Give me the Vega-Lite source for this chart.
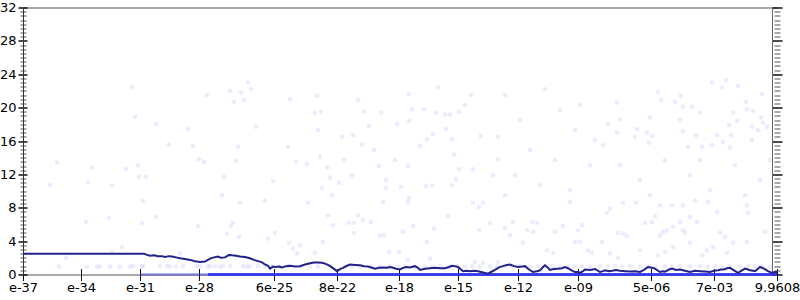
{
  "$schema": "https://vega.github.io/schema/vega-lite/v6.json",
  "width": 754,
  "height": 267,
  "autosize": {"type": "none"},
  "padding": {"left": 23, "top": 7.5, "right": 23, "bottom": 25.5},
  "background": "white",
  "config": {
    "view": {"stroke": null},
    "axis": {"grid": false, "labelFont": "DejaVu Sans", "labelFontSize": 13, "labelColor": "#000", "title": null}
  },
  "datasets": {
    "pts": [
      {"x":184,"y":21.5},{"x":207,"y":22.0},{"x":211,"y":20.7},{"x":218,"y":21.8},{"x":221,"y":20.9},{"x":225,"y":23.0},{"x":228,"y":22.2},{"x":233,"y":17.7},{"x":215,"y":15.3},{"x":213,"y":13.6},{"x":201,"y":11.7},{"x":199,"y":9.5},{"x":181,"y":13.5},
      {"x":267,"y":21.0},{"x":294,"y":21.4},{"x":292,"y":19.4},{"x":298,"y":19.5},{"x":295,"y":17.3},{"x":265,"y":15.3},{"x":273,"y":13.5},{"x":284,"y":13.2},{"x":297,"y":14.1},{"x":304,"y":12.8},{"x":307,"y":11.6},{"x":299,"y":10.4},{"x":316,"y":11.0},{"x":309,"y":9.5},{"x":250,"y":11.2},{"x":321,"y":13.8},{"x":319,"y":16.5},{"x":330,"y":16.7},{"x":339,"y":15.6},{"x":335,"y":20.9},{"x":341,"y":19.5},{"x":346,"y":17.8},{"x":358,"y":19.4},{"x":351,"y":14.9},{"x":356,"y":13.0},{"x":329,"y":11.9},{"x":363,"y":11.3},{"x":363,"y":10.4},{"x":378,"y":10.5},{"x":372,"y":13.7},{"x":374,"y":18.0},{"x":386,"y":18.4},{"x":386,"y":21.6},{"x":389,"y":19.8},{"x":401,"y":19.8},{"x":415,"y":22.4},{"x":413,"y":19.4},{"x":422,"y":19.2},{"x":427,"y":19.2},{"x":436,"y":19.5},{"x":442,"y":20.3},{"x":448,"y":21.5},{"x":423,"y":17.4},{"x":410,"y":16.8},{"x":404,"y":16.2},{"x":397,"y":15.4},{"x":429,"y":16.2},{"x":431,"y":14.4},{"x":385,"y":13.0},{"x":436,"y":12.6},{"x":450,"y":12.6},{"x":433,"y":11.4},{"x":429,"y":10.7},{"x":409,"y":10.7},{"x":403,"y":10.6},{"x":458,"y":16.6},{"x":475,"y":16.5},{"x":475,"y":13.8},{"x":470,"y":11.9},{"x":386,"y":9.2},
      {"x":109,"y":22.5},{"x":112,"y":18.9},{"x":133,"y":18.0},{"x":165,"y":17.4},{"x":146,"y":15.6},{"x":170,"y":15.4},
      {"x":34,"y":13.4},{"x":27,"y":10.7},{"x":69,"y":12.8},{"x":65,"y":11.0},{"x":89,"y":10.7},{"x":103,"y":12.6},{"x":115,"y":13.1},{"x":116,"y":11.7},{"x":123,"y":11.7},{"x":120,"y":8.8},{"x":63,"y":6.3},{"x":86,"y":6.8},{"x":119,"y":6.2},{"x":133,"y":6.9},{"x":175,"y":5.8},{"x":176,"y":13.8},{"x":89,"y":2.7},{"x":99,"y":3.3},{"x":43,"y":2.0},{"x":157,"y":2.5},
      {"x":217,"y":8.6},{"x":285,"y":8.6},{"x":242,"y":8.9},{"x":210,"y":6.2},{"x":208,"y":5.8},{"x":204,"y":4.9},{"x":216,"y":4.5},{"x":252,"y":5.0},{"x":245,"y":4.3},{"x":266,"y":3.8},{"x":270,"y":3.1},{"x":277,"y":3.5},{"x":274,"y":2.5},{"x":292,"y":2.6},{"x":300,"y":3.9},{"x":305,"y":7.1},{"x":310,"y":5.9},{"x":326,"y":6.2},{"x":331,"y":6.2},{"x":335,"y":7.1},{"x":340,"y":6.5},{"x":348,"y":6.3},{"x":331,"y":5.0},{"x":357,"y":4.7},{"x":361,"y":4.7},{"x":380,"y":5.1},{"x":390,"y":5.8},{"x":411,"y":5.5},{"x":404,"y":3.9},{"x":366,"y":2.7},{"x":376,"y":2.7},{"x":385,"y":1.7},{"x":407,"y":1.9},{"x":425,"y":7.0},{"x":450,"y":8.6},{"x":460,"y":8.6},{"x":456,"y":8.1},{"x":456,"y":5.3},{"x":467,"y":6.2},{"x":452,"y":1.5},{"x":460,"y":1.4},{"x":475,"y":1.5},{"x":360,"y":8.7},{"x":385,"y":8.7},
      {"x":547,"y":8.7},{"x":600,"y":8.6},{"x":613,"y":8.6},{"x":637,"y":8.3},{"x":649,"y":8.3},{"x":660,"y":8.3},{"x":724,"y":8.3},{"x":725,"y":7.4},{"x":672,"y":8.9},{"x":685,"y":8.7},{"x":694,"y":7.5},{"x":584,"y":7.4},{"x":587,"y":7.9},{"x":632,"y":7.0},{"x":622,"y":6.2},{"x":629,"y":6.3},{"x":657,"y":6.3},{"x":667,"y":6.9},{"x":674,"y":6.3},{"x":650,"y":5.7},{"x":660,"y":5.3},{"x":490,"y":6.3},{"x":509,"y":6.3},{"x":514,"y":6.2},{"x":540,"y":5.8},{"x":559,"y":5.9},{"x":555,"y":5.3},{"x":482,"y":5.6},{"x":504,"y":5.3},{"x":487,"y":4.7},{"x":510,"y":5.1},{"x":532,"y":5.1},{"x":552,"y":3.9},{"x":557,"y":3.9},{"x":579,"y":3.9},{"x":595,"y":5.0},{"x":600,"y":4.9},{"x":604,"y":4.6},{"x":637,"y":4.7},{"x":640,"y":5.1},{"x":644,"y":5.3},{"x":662,"y":5.0},{"x":697,"y":5.0},{"x":702,"y":4.5},{"x":742,"y":5.1},{"x":710,"y":3.8},{"x":724,"y":3.9},{"x":690,"y":3.3},{"x":667,"y":3.8},{"x":565,"y":2.9},{"x":569,"y":2.6},{"x":587,"y":2.5},{"x":595,"y":2.0},{"x":617,"y":2.9},{"x":684,"y":2.9},{"x":650,"y":3.3},{"x":642,"y":2.7},{"x":635,"y":2.3},{"x":530,"y":2.6},{"x":500,"y":3.8},{"x":524,"y":2.9},{"x":679,"y":2.3},{"x":704,"y":2.6},
      {"x":689,"y":23.0},{"x":703,"y":23.3},{"x":699,"y":22.4},{"x":715,"y":22.6},{"x":739,"y":21.6},{"x":635,"y":21.9},{"x":638,"y":20.9},{"x":658,"y":21.4},{"x":652,"y":20.7},{"x":660,"y":20.1},{"x":669,"y":20.1},{"x":594,"y":20.6},{"x":677,"y":19.4},{"x":723,"y":20.7},{"x":724,"y":19.8},{"x":730,"y":19.6},{"x":710,"y":19.4},{"x":738,"y":18.8},{"x":740,"y":18.2},{"x":744,"y":17.7},{"x":627,"y":18.8},{"x":657,"y":18.6},{"x":597,"y":18.6},{"x":585,"y":18.0},{"x":614,"y":17.4},{"x":624,"y":17.0},{"x":629,"y":16.6},{"x":612,"y":16.5},{"x":594,"y":17.0},{"x":660,"y":17.2},{"x":673,"y":16.7},{"x":694,"y":16.7},{"x":708,"y":16.7},{"x":706,"y":17.9},{"x":714,"y":18.4},{"x":729,"y":17.7},{"x":735,"y":17.3},{"x":626,"y":15.8},{"x":580,"y":15.5},{"x":665,"y":15.3},{"x":679,"y":15.3},{"x":689,"y":15.5},{"x":700,"y":15.9},{"x":729,"y":16.1},{"x":707,"y":15.2},
      {"x":482,"y":21.5},{"x":497,"y":18.5},{"x":522,"y":22.2},{"x":537,"y":19.7},{"x":552,"y":17.3},{"x":507,"y":14.9},{"x":532,"y":13.7},{"x":567,"y":13.1},{"x":492,"y":11.9},{"x":517,"y":10.7},{"x":547,"y":10.1},{"x":572,"y":16.1},{"x":482,"y":9.5},{"x":557,"y":20.3},
      {"x":597,"y":13.1},{"x":617,"y":11.3},{"x":642,"y":13.7},{"x":667,"y":11.9},{"x":687,"y":10.1},{"x":712,"y":13.1},{"x":737,"y":11.3},{"x":747,"y":13.7},{"x":627,"y":9.5},{"x":722,"y":9.5},{"x":677,"y":13.7},
      {"x":36,"y":0.95},{"x":64,"y":0.95},{"x":74,"y":0.95},{"x":77,"y":0.95},{"x":87,"y":0.95},{"x":97,"y":0.95},{"x":107,"y":0.95},{"x":110,"y":1.0},{"x":119,"y":0.95},{"x":120,"y":1.0},{"x":137,"y":1.0},{"x":144,"y":1.0},{"x":147,"y":0.95},{"x":153,"y":0.95},{"x":160,"y":1.0},{"x":174,"y":1.0},{"x":177,"y":0.95},{"x":185,"y":1.0},{"x":187,"y":1.0},{"x":192,"y":1.0},{"x":197,"y":0.95},{"x":200,"y":1.0},{"x":207,"y":1.0},{"x":220,"y":1.0},{"x":224,"y":0.95},{"x":227,"y":1.0},{"x":235,"y":1.0},
      {"x":242,"y":0.95},{"x":249,"y":1.0},{"x":257,"y":0.95},{"x":265,"y":1.0},{"x":277,"y":0.95},{"x":287,"y":1.0},{"x":295,"y":0.95},{"x":307,"y":1.0},{"x":322,"y":0.95},{"x":329,"y":1.0},{"x":337,"y":0.95},{"x":349,"y":1.0},{"x":357,"y":0.95},{"x":367,"y":1.0},{"x":375,"y":0.95},{"x":382,"y":1.0},{"x":392,"y":0.95},{"x":402,"y":1.0},{"x":409,"y":0.95},{"x":417,"y":1.0},{"x":427,"y":0.95},{"x":435,"y":1.0},{"x":442,"y":0.95},{"x":449,"y":1.0},{"x":457,"y":0.95},{"x":467,"y":1.0},{"x":474,"y":0.95},
      {"x":482,"y":1.0},{"x":489,"y":0.95},{"x":497,"y":1.0},{"x":507,"y":0.95},{"x":515,"y":1.0},{"x":522,"y":0.95},{"x":530,"y":1.0},{"x":537,"y":0.95},{"x":545,"y":1.0},{"x":552,"y":0.95},{"x":559,"y":1.0},{"x":567,"y":0.95},{"x":577,"y":1.0},{"x":585,"y":0.95},{"x":592,"y":1.0},{"x":599,"y":0.95},{"x":607,"y":1.0},{"x":617,"y":0.95},{"x":625,"y":1.0},{"x":633,"y":0.95},{"x":642,"y":1.0},{"x":649,"y":0.95},{"x":657,"y":1.0},{"x":667,"y":0.95},{"x":677,"y":1.0},{"x":685,"y":0.95},{"x":692,"y":1.0},{"x":699,"y":0.95},{"x":707,"y":1.0},{"x":717,"y":0.95},{"x":725,"y":1.0},{"x":732,"y":0.95},{"x":739,"y":1.0},{"x":747,"y":0.95}
    ],
    "zero": [
      {"x":117,"y":0,"seg":"a"},{"x":185,"y":0,"seg":"a"},
      {"x":185,"y":0,"seg":"b"},{"x":754,"y":0,"seg":"b"}
    ],
    "line": [
      {"x":0,"y":2.5},{"x":121,"y":2.5},{"x":124,"y":2.35},{"x":127,"y":2.25},{"x":131,"y":2.3},{"x":135,"y":2.2},{"x":139,"y":2.2},{"x":142,"y":2.1},{"x":146,"y":2.2},{"x":149,"y":2.15},{"x":153,"y":2.05},{"x":157,"y":1.95},{"x":162,"y":1.85},{"x":167,"y":1.75},{"x":172,"y":1.6},{"x":177,"y":1.5},{"x":182,"y":1.55},{"x":187,"y":1.9},{"x":191,"y":2.05},{"x":195,"y":2.15},{"x":198,"y":2.0},{"x":202,"y":2.05},{"x":206,"y":2.35},{"x":209,"y":2.3},{"x":213,"y":2.25},{"x":217,"y":2.15},{"x":222,"y":2.1},{"x":227,"y":1.95},{"x":231,"y":1.75},{"x":235,"y":1.6},{"x":239,"y":1.45},{"x":242,"y":1.2},{"x":245,"y":1.05},{"x":247,"y":0.7},{"x":250,"y":0.95},{"x":252,"y":0.9},{"x":256,"y":0.95},{"x":259,"y":0.85},{"x":263,"y":1.0},{"x":267,"y":1.05},{"x":272,"y":0.95},{"x":277,"y":1.0},{"x":282,"y":1.2},{"x":287,"y":1.35},{"x":291,"y":1.45},{"x":295,"y":1.45},{"x":299,"y":1.4},{"x":302,"y":1.3},{"x":306,"y":1.1},{"x":309,"y":0.85},{"x":314,"y":0.4},{"x":317,"y":0.65},{"x":320,"y":0.8},{"x":324,"y":1.05},{"x":327,"y":1.2},{"x":332,"y":1.15},{"x":337,"y":1.1},{"x":341,"y":1.0},{"x":345,"y":0.95},{"x":349,"y":0.8},{"x":352,"y":0.7},{"x":356,"y":0.8},{"x":360,"y":0.85},{"x":364,"y":0.8},{"x":367,"y":0.9},{"x":370,"y":0.8},{"x":373,"y":0.7},{"x":377,"y":0.6},{"x":380,"y":0.8},{"x":383,"y":0.9},{"x":387,"y":0.85},{"x":392,"y":1.0},{"x":395,"y":0.8},{"x":397,"y":0.55},{"x":402,"y":0.7},{"x":407,"y":0.75},{"x":412,"y":0.8},{"x":417,"y":0.75},{"x":422,"y":0.75},{"x":426,"y":0.9},{"x":429,"y":1.05},{"x":432,"y":1.0},{"x":435,"y":0.9},{"x":438,"y":0.6},{"x":440,"y":0.4},{"x":444,"y":0.45},{"x":447,"y":0.4},{"x":451,"y":0.45},{"x":455,"y":0.4},{"x":460,"y":0.25},{"x":465,"y":0.1},{"x":468,"y":0.3},{"x":472,"y":0.55},{"x":476,"y":0.85},{"x":480,"y":1.0},{"x":484,"y":1.15},{"x":487,"y":1.2},{"x":491,"y":1.0},{"x":495,"y":0.9},{"x":499,"y":0.95},{"x":502,"y":1.0},{"x":506,"y":0.6},{"x":510,"y":0.3},{"x":514,"y":0.4},{"x":517,"y":0.5},{"x":520,"y":0.9},{"x":522,"y":1.1},{"x":525,"y":0.8},{"x":527,"y":0.55},{"x":531,"y":0.65},{"x":535,"y":0.7},{"x":539,"y":0.75},{"x":542,"y":0.9},{"x":545,"y":0.75},{"x":547,"y":0.6},{"x":550,"y":0.4},{"x":552,"y":0.3},{"x":555,"y":0.3},{"x":557,"y":0.2},{"x":560,"y":0.4},{"x":562,"y":0.6},{"x":567,"y":0.55},{"x":572,"y":0.65},{"x":575,"y":0.45},{"x":577,"y":0.3},{"x":580,"y":0.4},{"x":582,"y":0.5},{"x":586,"y":0.4},{"x":589,"y":0.45},{"x":593,"y":0.55},{"x":597,"y":0.45},{"x":602,"y":0.4},{"x":607,"y":0.35},{"x":612,"y":0.4},{"x":617,"y":0.3},{"x":621,"y":0.55},{"x":625,"y":0.9},{"x":629,"y":0.8},{"x":632,"y":0.7},{"x":635,"y":0.45},{"x":637,"y":0.3},{"x":640,"y":0.4},{"x":642,"y":0.35},{"x":646,"y":0.6},{"x":649,"y":0.7},{"x":653,"y":0.55},{"x":657,"y":0.6},{"x":662,"y":0.45},{"x":667,"y":0.3},{"x":672,"y":0.45},{"x":677,"y":0.4},{"x":682,"y":0.35},{"x":687,"y":0.3},{"x":691,"y":0.45},{"x":695,"y":0.5},{"x":698,"y":0.6},{"x":701,"y":0.6},{"x":704,"y":0.75},{"x":707,"y":0.8},{"x":711,"y":0.5},{"x":715,"y":0.2},{"x":719,"y":0.5},{"x":722,"y":0.7},{"x":725,"y":0.6},{"x":727,"y":0.5},{"x":730,"y":0.45},{"x":732,"y":0.4},{"x":735,"y":0.7},{"x":737,"y":0.9},{"x":741,"y":0.7},{"x":745,"y":0.4},{"x":749,"y":0.2},{"x":752,"y":0.3},{"x":754,"y":0.3}
    ]
  },
  "resolve": {"axis": {"x": "independent", "y": "independent"}},
  "layer": [
    {
      "data": {"name": "line"},
      "mark": {"type": "point", "opacity": 0},
      "encoding": {
        "x": {"field": "x", "type": "quantitative", "scale": {"domain": [0, 754], "nice": false, "zero": false},
          "axis": {"orient": "bottom", "values": [0,58,117,176,251,314,376,435,495,555,628,691,754],
            "labelExpr": "['e-37','e-34','e-31','e-28','6e-25','8e-22','e-18','e-15','e-12','e-09','5e-06','7e-03','9.9608'][indexof([0,58,117,176,251,314,376,435,495,555,628,691,754], datum.value)]",
            "ticks": false, "labelPadding": 7, "domain": true, "domainColor": "#aaaaaa", "domainWidth": 2, "labelOverlap": false, "labelBound": false, "labelFlush": false}},
        "y": {"field": "y", "type": "quantitative", "scale": {"domain": [0, 32], "nice": false},
          "axis": {"orient": "left", "values": [0,4,8,12,16,20,24,28,32], "offset": -4, "ticks": true, "tickSize": 9, "tickColor": "#111111", "tickWidth": 1.5, "labelPadding": 2, "domain": false}}
      }
    },
    {
      "data": {"name": "line"},
      "mark": {"type": "point", "opacity": 0},
      "encoding": {
        "x": {"field": "x", "type": "quantitative", "axis": null},
        "y": {"field": "y", "type": "quantitative",
          "axis": {"orient": "right", "values": [0,4,8,12,16,20,24,28,32], "offset": -5, "tickSize": 10, "tickColor": "#111111", "tickWidth": 1.5, "labels": false, "domain": true, "domainColor": "#666666", "domainWidth": 1}}
      }
    },
    {
      "data": {"name": "pts"},
      "mark": {"type": "circle", "size": 22, "color": "#c8c8ff", "opacity": 0.35},
      "encoding": {
        "x": {"field": "x", "type": "quantitative",
          "axis": {"orient": "bottom", "values": [0,58,117,176,251,314,376,435,495,555,628,691,754], "offset": -6, "tickSize": 12, "tickColor": "#111111", "tickWidth": 1, "labels": false, "domain": false}},
        "y": {"field": "y", "type": "quantitative",
          "axis": {"orient": "left", "values": [0.5,1,1.5,2,2.5,3,3.5,4.5,5,5.5,6,6.5,7,7.5,8.5,9,9.5,10,10.5,11,11.5,12.5,13,13.5,14,14.5,15,15.5,16.5,17,17.5,18,18.5,19,19.5,20.5,21,21.5,22,22.5,23,23.5,24.5,25,25.5,26,26.5,27,27.5,28.5,29,29.5,30,30.5,31,31.5], "offset": -3, "tickSize": 6, "tickColor": "#555555", "tickWidth": 1, "labels": false, "domain": false}}
      }
    },
    {
      "data": {"name": "zero"},
      "mark": {"type": "line", "color": "#2f2ff0", "strokeWidth": 3},
      "encoding": {
        "detail": {"field": "seg"},
        "opacity": {"field": "seg", "type": "nominal", "scale": {"domain": ["a", "b"], "range": [0.35, 0.9]}, "legend": null},
        "x": {"field": "x", "type": "quantitative",
          "axis": {"orient": "top", "ticks": false, "labels": false, "domain": true, "domainColor": "#aaaaaa", "domainWidth": 2}},
        "y": {"field": "y", "type": "quantitative",
          "axis": {"orient": "right", "values": [0.5,1,1.5,2,2.5,3,3.5,4.5,5,5.5,6,6.5,7,7.5,8.5,9,9.5,10,10.5,11,11.5,12.5,13,13.5,14,14.5,15,15.5,16.5,17,17.5,18,18.5,19,19.5,20.5,21,21.5,22,22.5,23,23.5,24.5,25,25.5,26,26.5,27,27.5,28.5,29,29.5,30,30.5,31,31.5], "offset": -3, "tickSize": 6, "tickColor": "#555555", "tickWidth": 1, "labels": false, "domain": false}}
      }
    },
    {
      "data": {"name": "line"},
      "mark": {"type": "line", "color": "#22228c", "strokeWidth": 2},
      "encoding": {
        "x": {"field": "x", "type": "quantitative", "axis": null},
        "y": {"field": "y", "type": "quantitative",
          "axis": {"orient": "left", "ticks": false, "labels": false, "domain": true, "domainColor": "#333333", "domainWidth": 1}}
      }
    }
  ]
}
